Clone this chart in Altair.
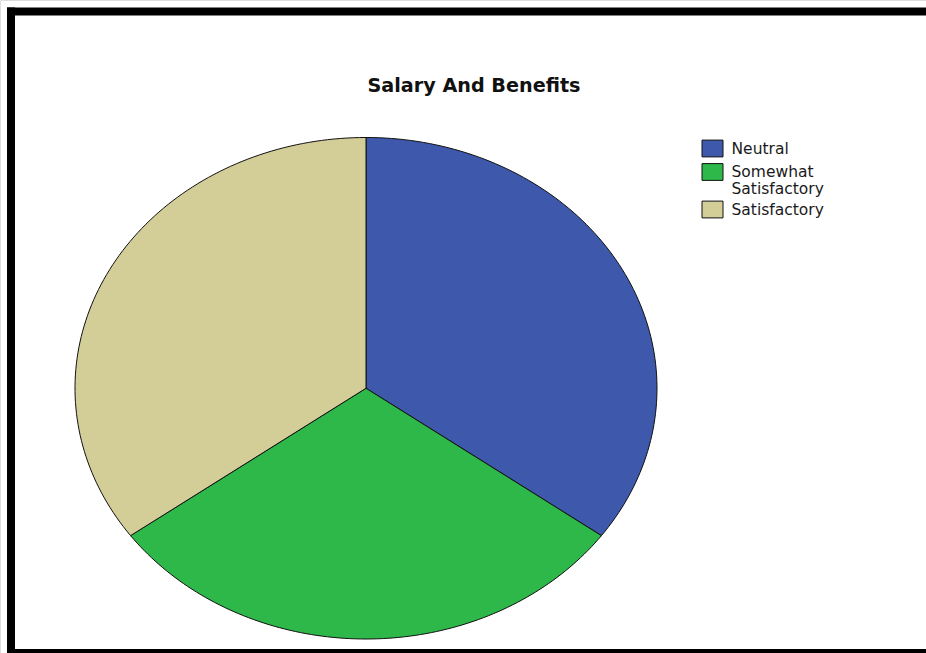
import altair as alt
import pandas as pd

# ---- data ----
categories = ["Neutral", "Somewhat Satisfactory", "Satisfactory"]
counts = [7, 6, 7]
slice_order = [0, 1, 2]
colors = ["#3e58ab", "#2db849", "#d3cd98"]
legend_lines = {"Somewhat Satisfactory": ["Somewhat", "Satisfactory"]}
title_text = "Salary And Benefits"

df = pd.DataFrame({"category": categories, "count": counts, "idx": slice_order})

W, H = 926, 653

label_expr = " : ".join(
    [f"datum.label == '{k}' ? {v!r}" for k, v in legend_lines.items()] + ["datum.label"]
)

pie = (
    alt.Chart(df)
    .transform_joinaggregate(total="sum(count)")
    .transform_window(cum="sum(count)", sort=[alt.SortField("idx")], frame=[None, 0])
    .transform_calculate(
        a0="(datum.cum - datum.count) / datum.total * 2 * PI",
        a1="datum.cum / datum.total * 2 * PI",
        i="sequence(-1, 102)",
    )
    .transform_flatten(["i"])
    .transform_calculate(
        center="datum.i < 0 || datum.i > 100",
        ang="datum.a0 + clamp(datum.i, 0, 100) / 100 * (datum.a1 - datum.a0)",
    )
    .transform_calculate(
        px="datum.center ? 0 : sin(datum.ang)",
        py="datum.center ? 0 : cos(datum.ang)",
    )
    .mark_line(stroke="#111111", strokeWidth=1, strokeJoin="round", interpolate="linear")
    .encode(
        x=alt.X("px:Q", scale=alt.Scale(domain=[-1, 1], range=[75, 657], nice=False, zero=False), axis=None),
        y=alt.Y("py:Q", scale=alt.Scale(domain=[-1, 1], range=[639, 137.5], nice=False, zero=False), axis=None),
        order=alt.Order("i:Q"),
        detail="category:N",
        fill=alt.Fill(
            "category:N",
            scale=alt.Scale(domain=categories, range=colors),
            sort=categories,
            legend=alt.Legend(
                title=None,
                orient="none",
                legendX=701.5,
                legendY=137.5,
                padding=0,
                symbolType="M-1,-0.8H1V0.8H-1Z",
                symbolSize=441,
                symbolStrokeColor="#111111",
                symbolStrokeWidth=1,
                symbolOpacity=1,
                labelFont="DejaVu Sans",
                labelFontSize=15.5,
                labelColor="#1a1a1a",
                labelOffset=8,
                labelLimit=300,
                rowPadding=1.5,
                labelExpr=label_expr,
            ),
        ),
    )
)

one = pd.DataFrame({"k": [0]})
frame_top = alt.Chart(one).mark_rect(color="black").encode(
    x=alt.value(7), x2=alt.value(W), y=alt.value(7.5), y2=alt.value(15.5)
)
frame_left = alt.Chart(one).mark_rect(color="black").encode(
    x=alt.value(7), x2=alt.value(15), y=alt.value(7.5), y2=alt.value(H)
)
frame_bottom = alt.Chart(one).mark_rect(color="black").encode(
    x=alt.value(7), x2=alt.value(W), y=alt.value(649), y2=alt.value(H)
)

title = alt.Chart(pd.DataFrame({"t": [title_text]})).mark_text(
    font="DejaVu Sans", fontSize=19.2, fontWeight="bold", color="#111111",
    align="center", baseline="alphabetic",
).encode(x=alt.value(474), y=alt.value(92), text="t:N")

chart = (
    alt.layer(pie, title, frame_top, frame_left, frame_bottom)
    .properties(width=W, height=H, autosize=alt.AutoSizeParams(type="none"), padding=0, background="white")
    .configure_view(stroke=None)
    .configure(style={"guide-label": {"lineHeight": 16.5}})
)

chart.save("out.html", embed_options={"renderer": "svg", "actions": False})
